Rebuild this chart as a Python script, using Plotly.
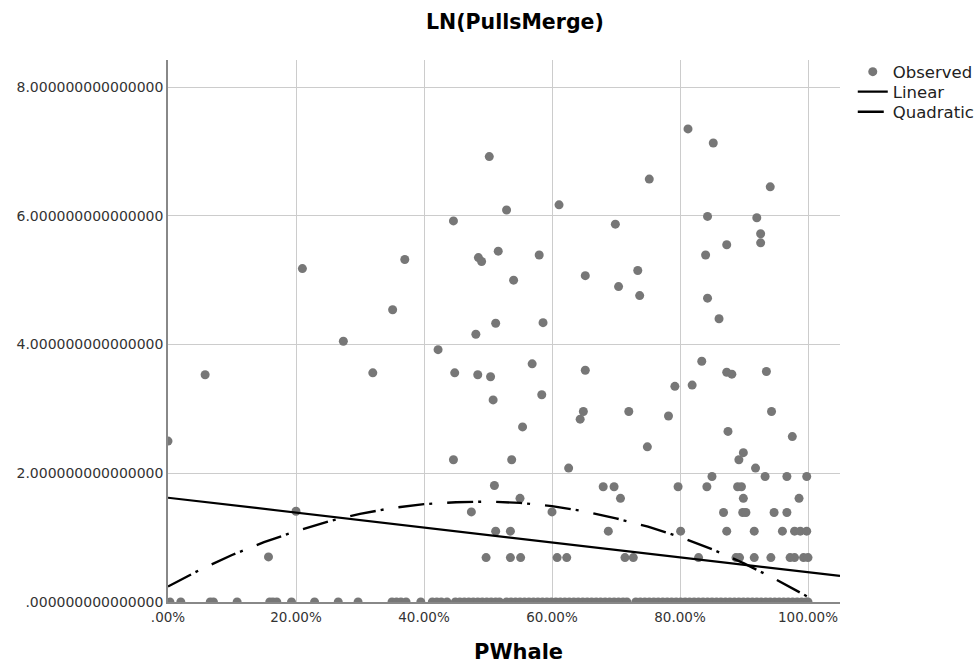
import plotly.graph_objects as go

# ---------------- data ----------------
# Observed points with non-zero LN(PullsMerge)
obs_x = [0.000, 0.058, 0.157, 0.200, 0.210, 0.274, 0.320, 0.351, 0.370, 0.422,
         0.446, 0.446, 0.448, 0.474, 0.481, 0.484, 0.485, 0.490, 0.497, 0.502,
         0.504, 0.508, 0.510, 0.512, 0.512, 0.516, 0.529, 0.535, 0.535, 0.537,
         0.540, 0.550, 0.551, 0.554, 0.569, 0.580, 0.584, 0.586, 0.600, 0.608,
         0.611, 0.623, 0.626, 0.644, 0.649, 0.652, 0.652, 0.680, 0.688, 0.697,
         0.699, 0.704, 0.707, 0.714, 0.720, 0.727, 0.734, 0.737, 0.749, 0.752,
         0.782, 0.792, 0.797, 0.801, 0.8125, 0.819, 0.829, 0.834, 0.840, 0.842,
         0.843, 0.843, 0.850, 0.852, 0.861, 0.868, 0.873, 0.873, 0.873, 0.875,
         0.881, 0.8875, 0.890, 0.892, 0.893, 0.896, 0.898, 0.899, 0.899, 0.903,
         0.916, 0.916, 0.918, 0.920, 0.926, 0.926, 0.933, 0.935, 0.941, 0.942,
         0.943, 0.947, 0.960, 0.967, 0.967, 0.972, 0.9755, 0.979, 0.979, 0.986,
         0.988, 0.993, 0.998, 0.998, 1.000]
obs_y = [2.50, 3.53, 0.70, 1.41, 5.18, 4.05, 3.56, 4.54, 5.32, 3.92,
         5.92, 2.21, 3.56, 1.40, 4.16, 3.53, 5.35, 5.29, 0.69, 6.92,
         3.50, 3.14, 1.81, 4.33, 1.10, 5.45, 6.09, 1.10, 0.69, 2.21,
         5.00, 1.61, 0.69, 2.72, 3.70, 5.39, 3.22, 4.34, 1.40, 0.69,
         6.17, 0.69, 2.08, 2.84, 2.96, 3.60, 5.07, 1.79, 1.10, 1.79,
         5.87, 4.90, 1.61, 0.69, 2.96, 0.69, 5.15, 4.76, 2.41, 6.57,
         2.89, 3.35, 1.79, 1.10, 7.35, 3.37, 0.69, 3.74, 5.39, 1.79,
         5.99, 4.72, 1.95, 7.13, 4.40, 1.39, 5.55, 3.57, 1.10, 2.65,
         3.54, 0.69, 1.79, 2.21, 0.69, 1.79, 1.39, 2.32, 1.61, 1.39,
         1.10, 0.69, 2.08, 5.97, 5.72, 5.58, 1.95, 3.58, 6.45, 0.69,
         2.96, 1.39, 1.10, 1.95, 1.39, 0.69, 2.57, 1.10, 0.69, 1.61,
         1.10, 0.69, 1.95, 1.10, 0.69]

# Observed points lying on LN = 0
zero_x = [0.003, 0.020, 0.066, 0.071, 0.108, 0.159, 0.164, 0.170, 0.193, 0.229,
          0.266, 0.297, 0.350, 0.357, 0.364, 0.372, 0.395, 0.413, 0.420, 0.427,
          0.436, 0.449, 0.456, 0.463, 0.470, 0.477, 0.484, 0.491, 0.498, 0.505,
          0.512, 0.518, 0.529, 0.536, 0.543, 0.550, 0.557, 0.564, 0.571, 0.578,
          0.585, 0.592, 0.599, 0.606, 0.613, 0.620, 0.627, 0.634, 0.641, 0.648,
          0.655, 0.662, 0.669, 0.676, 0.683, 0.690, 0.697, 0.704, 0.711, 0.717,
          0.731, 0.738, 0.745, 0.752, 0.759, 0.766, 0.773, 0.780, 0.787, 0.794,
          0.801, 0.808, 0.815, 0.822, 0.829, 0.836, 0.843, 0.850, 0.857, 0.864,
          0.871, 0.878, 0.885, 0.892, 0.899, 0.906, 0.913, 0.920, 0.927, 0.934,
          0.941, 0.948, 0.955, 0.962, 0.969, 0.976, 0.983, 0.990, 0.997, 1.000]
zero_y = [0.0] * len(zero_x)

# Linear fit line
lin_x = [0.0, 1.05]
lin_y = [1.62, 0.405]

# Quadratic fit curve
quad_x = [0.00, 0.05, 0.10, 0.15, 0.20, 0.25, 0.30, 0.35, 0.40, 0.45, 0.50,
          0.55, 0.60, 0.65, 0.70, 0.75, 0.80, 0.85, 0.90, 0.95, 1.00]
quad_y = [0.24, 0.50, 0.73, 0.93, 1.10, 1.25, 1.37, 1.46, 1.52, 1.55, 1.56,
          1.54, 1.49, 1.41, 1.30, 1.17, 1.01, 0.82, 0.60, 0.35, 0.08]

x_tickvals = [0.0, 0.2, 0.4, 0.6, 0.8, 1.0]
x_ticktext = [".00%", "20.00%", "40.00%", "60.00%", "80.00%", "100.00%"]
y_tickvals = [0, 2, 4, 6, 8]
y_ticktext = [".000000000000000", "2.000000000000000", "4.000000000000000",
              "6.000000000000000", "8.000000000000000"]

# ---------------- figure ----------------
GRAY = "#777777"
FONT = "DejaVu Sans"
LEG_FONT = dict(family=FONT, size=16.5, color="#222222")

fig = go.Figure()
fig.add_trace(go.Scatter(
    x=obs_x + zero_x, y=obs_y + zero_y, mode="markers", name="Observed",
    marker=dict(color=GRAY, size=9, line=dict(width=0)), legend="legend",
))
fig.add_trace(go.Scatter(
    x=lin_x, y=lin_y, mode="lines", name="Linear",
    line=dict(color="black", width=2.2), legend="legend2",
))
fig.add_trace(go.Scatter(
    x=quad_x, y=quad_y, mode="lines", name="Quadratic",
    line=dict(color="black", width=2.4, dash="26px,5px,3px,15px"),
    legend="legend3",
))

leg_common = dict(x=1.019, xanchor="left", yanchor="middle",
                  font=LEG_FONT, bgcolor="rgba(0,0,0,0)", itemwidth=30)

fig.update_layout(
    width=977, height=667,
    margin=dict(l=168, r=137, t=60, b=65, autoexpand=False),
    paper_bgcolor="white", plot_bgcolor="white",
    font=dict(family=FONT, size=14, color="#333333"),
    showlegend=True,
    legend=dict(y=0.978, **leg_common),
    legend2=dict(y=0.941, **leg_common),
    legend3=dict(y=0.904, **leg_common),
    annotations=[
        dict(text="<b>LN(PullsMerge)</b>", xref="paper", yref="paper",
             x=0.516, y=1.0, yshift=38, showarrow=False,
             font=dict(family=FONT, size=20.5, color="black"),
             xanchor="center", yanchor="middle"),
        dict(text="<b>PWhale</b>", xref="paper", yref="paper",
             x=0.522, y=0.0, yshift=-50, showarrow=False,
             font=dict(family=FONT, size=21, color="black"),
             xanchor="center", yanchor="middle"),
    ],
)
fig.update_xaxes(
    range=[0, 1.05], tickvals=x_tickvals, ticktext=x_ticktext,
    showgrid=True, gridcolor="#cccccc", gridwidth=1,
    showline=True, linecolor="#888888", linewidth=1.5,
    zeroline=False, ticks="", ticklen=0, ticklabelstandoff=2,
    tickfont=dict(family=FONT, size=13.5, color="#333333"),
)
fig.update_yaxes(
    range=[0, 8.42], tickvals=y_tickvals, ticktext=y_ticktext,
    showgrid=True, gridcolor="#cccccc", gridwidth=1,
    showline=True, linecolor="#888888", linewidth=1.5,
    zeroline=False, ticks="", ticklen=0,
    tickfont=dict(family=FONT, size=14, color="#333333"),
)

fig.write_html(
    "out.html",
    config={"displayModeBar": False},
    post_script="document.body.style.margin='0';document.body.style.overflow='hidden';",
)
